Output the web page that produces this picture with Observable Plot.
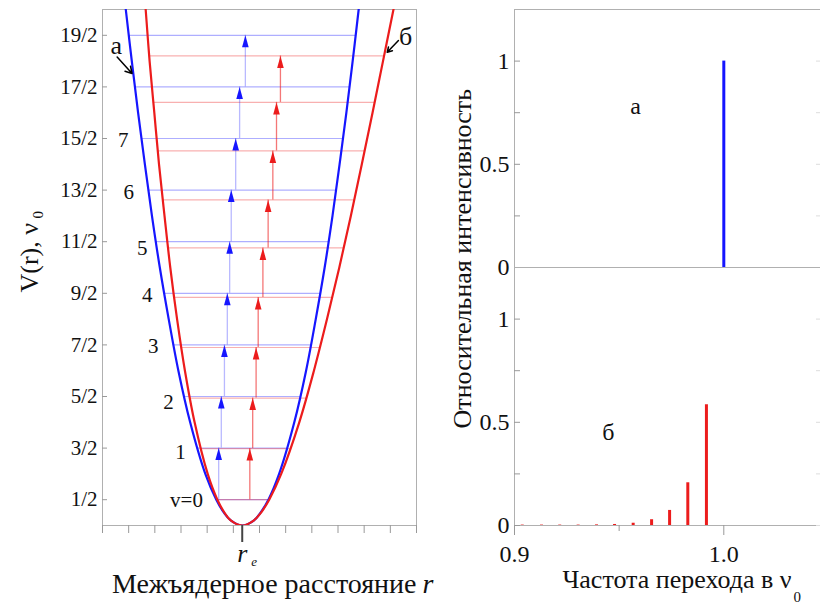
<!DOCTYPE html>
<html><head><meta charset="utf-8">
<script src="https://cdn.jsdelivr.net/npm/d3@7"></script>
<script src="https://cdn.jsdelivr.net/npm/@observablehq/plot@0.6"></script>
<style>
body{margin:0;background:#fff;}
#chart{position:relative;width:820px;height:603px;overflow:hidden;}
#chart svg{position:absolute;left:0;top:0;background:transparent;}
#chart svg, #chart svg g, #chart svg text{font-family:'Liberation Serif','DejaVu Serif',serif !important;}
</style></head><body><div id="chart"></div>
<script>
// ---------- data ----------
// left panel: energy levels (in units of nu0) vs internuclear distance r (arbitrary units)
const rEquilibrium = 5.34;
const blueLevels = [0.5,1.5,2.5,3.5,4.5,5.5,6.5,7.5,8.5,9.5];
const blueLevelLeft = [4.35,3.62,3.12,2.71,2.36,2.04,1.75,1.49,1.24,1.00];
const blueLevelRight = [6.34,7.06,7.57,7.97,8.33,8.64,8.93,9.19,9.44,9.68];
const redLevels = [0.5,1.49,2.47,3.45,4.42,5.38,6.31,7.26,8.2,9.1];
const redLevelLeft = [4.39,3.75,3.33,3.01,2.74,2.50,2.30,2.11,1.94,1.79];
const redLevelRight = [6.37,7.19,7.79,8.31,8.78,9.22,9.62,10.02,10.40,10.76];
const blueArrowR = [4.44,4.54,4.66,4.77,4.86,4.92,5.09,5.24,5.46];
const redArrowR = [5.63,5.74,5.87,5.95,6.13,6.33,6.51,6.65,6.80];
const curveV = [10.5,10,9,8,7,6,5,4,3,2,1,0.5,0.25,0.1,0,0.1,0.25,0.5,1,2,3,4,5,6,7,8,9,10,10.5];
const blueCurveR = [0.78,0.89,1.12,1.36,1.62,1.89,2.19,2.53,2.90,3.35,3.93,4.35,4.64,4.90,5.34,5.79,6.04,6.34,6.75,7.33,7.78,8.15,8.49,8.79,9.06,9.32,9.56,9.79,9.90];
const redCurveR = [1.57,1.65,1.80,1.98,2.16,2.37,2.59,2.85,3.15,3.52,4.02,4.39,4.66,4.90,5.34,5.79,6.06,6.37,6.83,7.52,8.08,8.58,9.05,9.49,9.91,10.32,10.72,11.12,11.32];
const yTickValues = [0.5,1.5,2.5,3.5,4.5,5.5,6.5,7.5,8.5,9.5];
const yTickLabels = ["1/2","3/2","5/2","7/2","9/2","11/2","13/2","15/2","17/2","19/2"];
const xTickValues = [0,1,2,3,4,5,6,7,8,9,10,11,12];
const levelLabelText = ["v=0","1","2","3","4","5","6","7"];
const levelLabelR = [3.21,2.98,2.52,1.94,1.71,1.52,1.00,0.79];
const levelLabelV = [0.48,1.41,2.39,3.47,4.46,5.37,6.45,7.46];
const curveTags = [{label:"а", r:0.53, V:9.30}, {label:"б", r:11.58, V:9.48}];
const curveTagArrows = [{x1:0.56, y1:9.08, x2:1.13, y2:8.76}, {x1:11.31, y1:9.40, x2:10.88, y2:9.17}];
// right panel: relative intensity vs transition frequency (units of nu0)
const harmonicFreq = [1.0];
const harmonicInt = [1.0];
const spectrumFreq = [0.9917,0.9828,0.9741,0.9655,0.9567,0.9478,0.9392,0.9304,0.9216,0.9129,0.9037];
const spectrumInt = [0.585,0.207,0.073,0.028,0.011,0.005,0.003,0.002,0.002,0.002,0.002];
const intensityTicks = [0,0.25,0.5,0.75,1];
const intensityMajor = [0,0.5,1];
const intensityLabels = ["0","0.5","1"];
const freqMajor = [0.9,1.0];
const freqMajorLabels = ["0.9","1.0"];
const freqMinor = [0.95,1.05];

// ---------- drawing ----------
const W = 820, H = 603;
const FONT = "Liberation Serif, DejaVu Serif, serif";
const BLUE = "#1616ff", RED = "#ec1c1c", FRAME = "#b0b0b0", INK = "#111";
const headSymbol = {draw(ctx){ ctx.moveTo(0,0); ctx.lineTo(3.3,12); ctx.lineTo(-3.3,12); ctx.closePath(); }};
const style = {background: "transparent", fontSize: "22px", color: INK, overflow: "hidden"};

const left = Plot.plot({
  width: W, height: H,
  marginLeft: 102, marginRight: 404, marginTop: 9, marginBottom: 78,
  style,
  x: {domain: [0, 12], axis: null},
  y: {domain: [0, 10], axis: null},
  marks: [
    Plot.frame({stroke: FRAME}),
    Plot.tickY(yTickValues, {stroke: "#999", insetRight: 309}),
    Plot.axisY(yTickValues, {anchor: "left", tickSize: 0, tickPadding: 5, fontSize: 21, fontFamily: FONT,
      tickFormat: d => yTickLabels[yTickValues.indexOf(d)]}),
    Plot.axisX(xTickValues, {anchor: "bottom", tickSize: 8, stroke: "#999", tickFormat: () => ""}),
    Plot.axisX([rEquilibrium], {anchor: "bottom", tickSize: 17, strokeWidth: 2, stroke: "#444", tickFormat: () => ""}),
    // vibrational levels
    Plot.ruleY(blueLevels, {y: blueLevels, x1: blueLevelLeft, x2: blueLevelRight, stroke: BLUE, strokeOpacity: 0.35, strokeWidth: 1.2}),
    Plot.ruleY(redLevels, {y: redLevels, x1: redLevelLeft, x2: redLevelRight, stroke: RED, strokeOpacity: 0.35, strokeWidth: 1.2}),
    // transition stems
    Plot.ruleX(blueArrowR, {x: blueArrowR, y1: blueLevels.slice(0, 9), y2: blueLevels.slice(1), stroke: BLUE, strokeOpacity: 0.3, strokeWidth: 1.3}),
    Plot.ruleX(redArrowR, {x: redArrowR, y1: redLevels.slice(0, 9), y2: redLevels.slice(1), stroke: RED, strokeOpacity: 0.6, strokeWidth: 1.3}),
    // potential curves
    Plot.line(blueCurveR, {x: blueCurveR, y: curveV, stroke: BLUE, strokeWidth: 2.2, curve: "catmull-rom", clip: true}),
    Plot.line(redCurveR, {x: redCurveR, y: curveV, stroke: RED, strokeWidth: 2.2, curve: "catmull-rom", clip: true}),
    // arrow heads
    Plot.dot(blueArrowR, {x: blueArrowR, y: blueLevels.slice(1), symbol: headSymbol, fill: BLUE, stroke: "none"}),
    Plot.dot(redArrowR, {x: redArrowR, y: redLevels.slice(1), symbol: headSymbol, fill: RED, stroke: "none"}),
    // level numbers
    Plot.text(levelLabelText, {x: levelLabelR, y: levelLabelV, fontSize: 21, fontFamily: FONT, fill: INK}),
    // curve tags
    Plot.text(curveTags, {x: "r", y: "V", text: "label", fontSize: 26, fontFamily: FONT, fill: INK}),
    Plot.arrow(curveTagArrows, {x1: "x1", y1: "y1", x2: "x2", y2: "y2", stroke: "#000", strokeWidth: 1.5, headLength: 8}),
    // r_e label
    Plot.text(["r"], {x: [rEquilibrium], frameAnchor: "bottom", dy: 36, lineAnchor: "bottom", fontStyle: "italic", fontSize: 26, fontFamily: FONT, fill: INK}),
    Plot.text(["e"], {x: [rEquilibrium], frameAnchor: "bottom", dx: 12, dy: 40, lineAnchor: "bottom", fontStyle: "italic", fontSize: 13, fontFamily: FONT, fill: INK}),
    // axis titles
    Plot.text(["Межъядерное расстояние"], {frameAnchor: "bottom-left", dx: 314, dy: 67, textAnchor: "end", lineAnchor: "bottom", fontSize: 28, fontFamily: FONT, fill: INK}),
    Plot.text(["r"], {frameAnchor: "bottom-left", dx: 320, dy: 67, textAnchor: "start", lineAnchor: "bottom", fontStyle: "italic", fontSize: 28, fontFamily: FONT, fill: INK}),
    Plot.text(["V(r), ν"], {frameAnchor: "left", dx: -65, dy: 25, rotate: -90, textAnchor: "start", lineAnchor: "bottom", fontSize: 26, fontFamily: FONT, fill: INK}),
    Plot.text(["0"], {frameAnchor: "left", dx: -60, dy: -49, rotate: -90, textAnchor: "start", lineAnchor: "bottom", fontSize: 15, fontFamily: FONT, fill: INK})
  ]
});

const rightTop = Plot.plot({
  width: W, height: H,
  marginLeft: 514, marginRight: 0, marginTop: 9, marginBottom: 336,
  style,
  x: {domain: [0.9, 1.0462], axis: null},
  y: {domain: [0, 1.25], axis: null},
  marks: [
    Plot.frame({stroke: FRAME, insetRight: -4}),
    Plot.tickY(intensityTicks, {stroke: "#999", insetRight: 300}),
    Plot.tickY(intensityTicks, {stroke: "#ddd", insetLeft: 302}),
    Plot.axisY(intensityMajor, {anchor: "left", tickSize: 0, tickPadding: 5, fontSize: 24, fontFamily: FONT,
      tickFormat: d => intensityLabels[intensityMajor.indexOf(d)]}),
    Plot.ruleX(harmonicFreq, {x: harmonicFreq, y1: 0, y2: harmonicInt, stroke: BLUE, strokeWidth: 3}),
    Plot.text(["а"], {x: [0.9578], y: [0.779], fontSize: 24, fontFamily: FONT, fill: INK})
  ]
});

const rightBottom = Plot.plot({
  width: W, height: H,
  marginLeft: 514, marginRight: 0, marginTop: 267, marginBottom: 78,
  style,
  x: {domain: [0.9, 1.0462], axis: null},
  y: {domain: [0, 1.25], axis: null},
  marks: [
    Plot.frame({stroke: FRAME, insetRight: -4}),
    Plot.tickY(intensityTicks, {stroke: "#999", insetRight: 300}),
    Plot.tickY(intensityTicks, {stroke: "#ddd", insetLeft: 302}),
    Plot.axisY(intensityMajor, {anchor: "left", tickSize: 0, tickPadding: 5, fontSize: 24, fontFamily: FONT,
      tickFormat: d => intensityLabels[intensityMajor.indexOf(d)]}),
    Plot.axisX(freqMajor, {anchor: "bottom", tickSize: 10, tickPadding: 9, stroke: "#999", fontSize: 24, fontFamily: FONT,
      tickFormat: d => freqMajorLabels[freqMajor.indexOf(d)]}),
    Plot.axisX(freqMinor, {anchor: "bottom", tickSize: 6, stroke: "#999", tickFormat: () => ""}),
    Plot.ruleX(spectrumFreq, {x: spectrumFreq, y1: 0, y2: spectrumInt, stroke: RED, strokeWidth: 3}),
    Plot.text(["б"], {x: [0.9449], y: [0.451], fontSize: 24, fontFamily: FONT, fill: INK}),
    Plot.text(["Относительная интенсивность"], {frameAnchor: "bottom-left", dx: -44, dy: -97, rotate: -90, textAnchor: "start", lineAnchor: "bottom", fontSize: 26, fontFamily: FONT, fill: INK}),
    Plot.text(["Частота перехода в ν"], {frameAnchor: "bottom-left", dx: 277, dy: 62, textAnchor: "end", lineAnchor: "bottom", fontSize: 26, fontFamily: FONT, fill: INK}),
    Plot.text(["0"], {frameAnchor: "bottom-left", dx: 279, dy: 76, textAnchor: "start", lineAnchor: "bottom", fontSize: 15, fontFamily: FONT, fill: INK})
  ]
});

const chart = document.getElementById("chart");
chart.append(left, rightTop, rightBottom);
</script>
</body></html>
